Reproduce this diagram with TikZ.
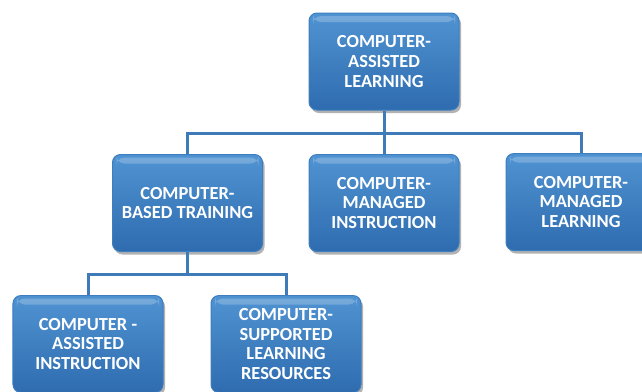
\documentclass[tikz,border=0pt]{standalone}
\usepackage{fontspec}
\setmainfont{Carlito}
\usetikzlibrary{shadows}
\definecolor{boxtop}{HTML}{5093D2}
\definecolor{boxbot}{HTML}{2E6CAF}
\definecolor{boxedge}{HTML}{3E7DBE}
\definecolor{linkc}{HTML}{3F7BB8}
\tikzset{
  orgbox/.style={rectangle, rounded corners=8bp, minimum width=150bp, minimum height=97bp,
    top color=boxtop, bottom color=boxbot, draw=boxedge, line width=1bp,
    text=white, align=center, inner sep=2bp,
    font=\fontsize{18.5}{20}\selectfont\bfseries,
    drop shadow={shadow xshift=2bp, shadow yshift=-3bp, opacity=0.3, fill=black},
    path picture={\fill[white,opacity=0.22] ([xshift=4bp,yshift=-3bp]path picture bounding box.north west) rectangle ([xshift=-4bp,yshift=-9bp]path picture bounding box.north east);}},
  link/.style={draw=linkc, line width=3bp}
}
\begin{document}
\begin{tikzpicture}[x=1bp,y=-1bp]
\useasboundingbox (0,0) rectangle (642,391);
\clip (0,0) rectangle (642,391);
\node[orgbox] (cal) at (384,61.5) {COMPUTER-\\ASSISTED\\LEARNING};
\node[orgbox] (cbt) at (187.5,203) {COMPUTER-\\BASED TRAINING};
\node[orgbox] (cmi) at (384,203) {COMPUTER-\\MANAGED\\INSTRUCTION};
\node[orgbox] (cml) at (581,202) {COMPUTER-\\MANAGED\\LEARNING};
\node[orgbox] (cai) at (88,344) {COMPUTER -\\ASSISTED\\INSTRUCTION};
\node[orgbox] (csl) at (286,344) {COMPUTER-\\SUPPORTED\\LEARNING\\RESOURCES};
\coordinate (b1) at (384,133);
\coordinate (b2) at (187.5,274.5);
\path[link] (cal.south) -- (b1);
\path[link] (cbt.north) |- (b1) -| (cml.north);
\path[link] (b1) -- (cmi.north);
\path[link] (cbt.south) -- (b2);
\path[link] (cai.north) |- (b2) -| (csl.north);
\end{tikzpicture}
\end{document}
